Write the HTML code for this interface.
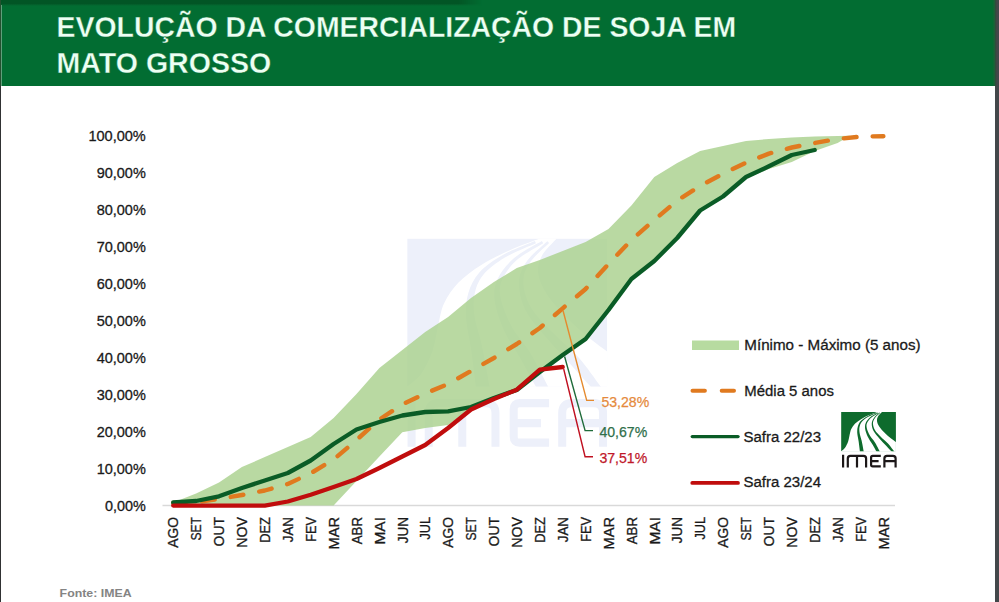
<!DOCTYPE html>
<html lang="pt-BR">
<head>
<meta charset="utf-8">
<title>Evolução da comercialização de soja em Mato Grosso</title>
<style>
  html, body { margin: 0; padding: 0; }
  body { width: 999px; height: 602px; overflow: hidden; background: #ffffff;
         font-family: "Liberation Sans", sans-serif; position: relative; }
  .frame { position: absolute; left: 0; top: 0; width: 999px; height: 602px; overflow: hidden; background: #fff; }
  .header { position: absolute; left: 0; top: 0; width: 997px; height: 85.6px;
             background: linear-gradient(to right, #026d32 0px, #026d32 992.5px, #1d6038 994.5px, #2f4c3c 995.5px, #43484a 997px); }
  .header-shadow { position: absolute; left: 0; top: 0; width: 482px; height: 6px;
                   background: linear-gradient(to bottom, #025525 0%, #025525 62%, #04622d 80%, #026d32 100%);
                   -webkit-mask-image: linear-gradient(to right, #000 0%, #000 95%, transparent 100%);
                   mask-image: linear-gradient(to right, #000 0%, #000 95%, transparent 100%); }
  .left-border { position: absolute; left: 0; top: 0; width: 1px; height: 602px;
                  background: linear-gradient(to bottom, #24502f 0px, #24502f 85px, #303233 86px, #303233 602px); }
  .left-hl { position: absolute; left: 1px; top: 5px; width: 1px; height: 81px; background: #5f9f7b; }
  .right-border { position: absolute; left: 995px; top: 0; width: 4px; height: 602px; background: #43474a; }
  svg { position: absolute; left: 0; top: 0; }
  svg text { font-family: "Liberation Sans", sans-serif; }
</style>
</head>
<body>
<div class="frame">
  <div class="right-border"></div>
  <div class="header"></div>
  <div class="header-shadow"></div>
  <svg width="999" height="602" viewBox="0 0 999 602">
    <defs><clipPath id="logoclip"><rect x="0" y="0" width="54.85" height="39.45"/></clipPath></defs>
    <!-- title -->
    <g font-weight="700" font-size="30" fill="#ecfff3" stroke="#026d32" stroke-width="0.35">
      <text x="56.6" y="36.8" textLength="679.6" lengthAdjust="spacingAndGlyphs">EVOLUÇÃO DA COMERCIALIZAÇÃO DE SOJA EM</text>
      <text x="56.6" y="72.9" textLength="214.6" lengthAdjust="spacingAndGlyphs">MATO GROSSO</text>
    </g>

    <!-- watermark -->
    <g transform="translate(407.2,238.6) scale(3.647,3.75)"><g clip-path="url(#logoclip)"><rect x="0" y="0" width="54.85" height="39.45" fill="#edf0fa"/><path d="M 36.33 0.00 C 34.96 0.52, 30.79 1.95, 28.12 3.12 C 25.46 4.30, 22.66 5.60, 20.31 7.03 C 17.97 8.46, 15.76 10.03, 14.06 11.72 C 12.37 13.41, 11.07 15.36, 10.16 17.19 C 9.24 19.01, 9.11 20.57, 8.59 22.66 C 8.07 24.74, 7.81 27.47, 7.03 29.69 C 6.25 31.90, 5.08 34.31, 3.91 35.94 C 2.73 37.57, 0.65 38.87, 0.00 39.45 L 0 40.45 L 55.85 40.45 L 55.85 30.68 L 54.85 30.08 C 54.04 29.49, 51.85 28.06, 50.00 26.56 C 48.15 25.07, 45.70 23.05, 43.75 21.09 C 41.80 19.14, 39.58 16.80, 38.28 14.84 C 36.98 12.89, 36.17 11.07, 35.94 9.38 C 35.70 7.68, 36.03 6.25, 36.88 4.69 C 37.72 3.12, 40.33 0.78, 41.02 0.00 Z" fill="#ffffff"/><path d="M 35.02 0.62 C 33.57 1.23, 28.87 2.91, 26.34 4.30 C 23.82 5.69, 21.45 7.24, 19.84 8.96 C 18.24 10.68, 17.34 12.59, 16.73 14.63 C 16.11 16.67, 16.04 18.78, 16.16 21.21 C 16.29 23.64, 17.00 25.99, 17.47 29.20 C 17.93 32.40, 18.69 38.57, 18.94 40.45 L 22.78 40.45 C 22.40 38.48, 21.21 31.86, 20.50 28.62 C 19.79 25.37, 18.87 23.24, 18.52 20.98 C 18.18 18.72, 18.05 16.92, 18.43 15.06 C 18.81 13.19, 19.39 11.45, 20.78 9.79 C 22.17 8.12, 24.36 6.49, 26.78 5.07 C 29.20 3.65, 33.88 1.89, 35.30 1.26 Z" fill="#edf0fa"/><path d="M 36.93 0.64 C 35.67 1.39, 31.42 3.46, 29.40 5.13 C 27.38 6.81, 25.72 8.78, 24.82 10.68 C 23.91 12.59, 23.67 14.21, 23.98 16.56 C 24.29 18.90, 25.49 22.17, 26.68 24.76 C 27.87 27.35, 29.59 29.47, 31.12 32.08 C 32.65 34.70, 35.06 39.06, 35.84 40.45 L 39.16 40.45 C 38.25 38.78, 35.45 33.21, 33.72 30.42 C 31.99 27.62, 30.13 26.04, 28.79 23.68 C 27.46 21.32, 26.18 18.34, 25.71 16.25 C 25.24 14.17, 25.25 12.93, 25.96 11.19 C 26.67 9.45, 28.09 7.46, 29.97 5.80 C 31.86 4.15, 36.07 2.00, 37.29 1.24 Z" fill="#edf0fa"/><path d="M 38.43 0.69 C 37.50 1.57, 34.14 4.17, 32.85 6.00 C 31.55 7.84, 30.71 9.53, 30.65 11.72 C 30.59 13.91, 31.21 16.68, 32.48 19.15 C 33.75 21.62, 36.15 24.09, 38.25 26.53 C 40.34 28.97, 42.91 31.50, 45.07 33.82 C 47.23 36.14, 50.18 39.34, 51.20 40.45 L 53.80 40.45 C 52.68 39.01, 49.44 34.38, 47.12 31.81 C 44.80 29.24, 42.08 27.28, 39.88 25.03 C 37.68 22.79, 35.27 20.57, 33.93 18.35 C 32.59 16.13, 31.91 13.69, 31.85 11.72 C 31.79 9.74, 32.38 8.25, 33.56 6.50 C 34.74 4.74, 38.02 2.07, 38.92 1.19 Z" fill="#edf0fa"/></g><path transform="translate(-0.8,0)" d="M 2.00 42.80 L 2.00 55.50 M 6.70 55.50 L 6.70 46.50 Q 6.70 43.90 9.30 43.90 L 22.40 43.90 Q 25.00 43.90 25.00 46.50 L 25.00 55.50 M 15.90 43.90 L 15.90 55.50 M 39.70 43.90 L 31.60 43.90 Q 30.00 43.90 30.00 45.50 L 30.00 52.80 Q 30.00 54.40 31.60 54.40 L 39.70 54.40 M 30.00 49.20 L 37.50 49.20 M 43.30 55.50 L 43.30 46.50 Q 43.30 43.90 45.90 43.90 L 51.90 43.90 Q 54.50 43.90 54.50 46.50 L 54.50 55.50 M 43.30 49.20 L 54.50 49.20 " fill="none" stroke="#edf0fa" stroke-width="2.2" stroke-linejoin="round"/></g>

    <!-- axis line -->
    <line x1="162.5" y1="505.5" x2="895" y2="505.5" stroke="#d9d9d9" stroke-width="1.3"/>

    <!-- band -->
    <polygon points="173.2,502.5 196.1,493.5 219.0,482.5 241.9,467.1 264.8,457.0 287.8,447.0 310.7,437.0 333.6,418.0 356.5,394.0 379.4,368.0 402.3,350.0 425.2,332.0 448.1,317.0 471.0,298.0 493.9,282.0 516.8,268.0 539.8,260.0 562.7,251.0 585.6,242.0 608.5,229.0 631.4,205.5 654.3,177.0 677.2,163.0 700.1,151.0 723.0,146.0 746.0,141.0 768.9,139.0 791.8,137.6 814.7,136.6 837.6,136.0 850.0,135.8 850.0,135.8 837.6,143.0 814.7,151.0 791.8,162.0 768.9,169.0 746.0,178.0 723.0,196.0 700.1,211.0 677.2,238.0 654.3,261.0 631.4,279.0 608.5,310.0 585.6,339.0 562.7,355.0 539.8,372.0 516.8,390.0 493.9,398.0 471.0,408.5 448.1,425.0 425.2,428.0 402.3,432.3 379.4,456.5 356.5,481.0 333.6,505.5 310.7,505.5 287.8,505.5 264.8,505.5 241.9,505.5 219.0,505.5 196.1,505.5 173.2,505.5" fill="#a9d18e" fill-opacity="0.82"/>

    <!-- series -->
    <polyline points="173.2,503.0 196.1,502.2 219.0,499.0 241.9,495.0 264.8,490.5 287.8,484.0 310.7,473.3 333.6,459.5 356.5,440.0 379.4,419.5 402.3,404.5 425.2,393.5 448.1,384.0 471.0,371.0 493.9,358.0 516.8,344.0 539.8,328.0 562.7,308.3 585.6,289.0 608.5,264.0 631.4,240.0 654.3,220.0 677.2,200.5 700.1,186.0 723.0,173.7 746.0,162.6 768.9,153.6 791.8,147.5 814.7,143.0 837.6,139.0 860.5,136.6 883.4,136.2" fill="none" stroke="#e07a1f" stroke-width="4.4" stroke-linecap="round" stroke-linejoin="round" stroke-dasharray="12.8 16.16"/>
    <polyline points="173.2,502.5 196.1,501.0 219.0,496.3 241.9,488.0 264.8,480.5 287.8,473.0 310.7,460.5 333.6,444.0 356.5,429.5 379.4,422.0 402.3,415.5 425.2,412.0 448.1,411.3 471.0,407.0 493.9,398.0 516.8,390.0 539.8,372.0 562.7,355.0 585.6,339.0 608.5,310.0 631.4,279.0 654.3,261.0 677.2,238.0 700.1,210.5 723.0,196.5 746.0,177.0 768.9,166.3 791.8,155.0 814.7,150.0" fill="none" stroke="#0a5c26" stroke-width="4.3" stroke-linecap="round" stroke-linejoin="round"/>
    <polyline points="173.2,505.6 196.1,505.6 219.0,505.6 241.9,505.6 264.8,505.6 287.8,501.5 310.7,494.8 333.6,487.0 356.5,479.0 379.4,468.0 402.3,456.5 425.2,445.0 448.1,428.0 471.0,409.5 493.9,399.0 516.8,389.7 539.8,369.7 562.7,367.0" fill="none" stroke="#c00d0d" stroke-width="4.3" stroke-linecap="round" stroke-linejoin="round"/>

    <!-- leader lines -->
    <polyline points="563,310.5 586.7,400.4 594,400.4" fill="none" stroke="#e58a2e" stroke-width="1.4"/>
    <polyline points="564.6,356.5 585.1,430.6 593,430.6" fill="none" stroke="#1f6b3a" stroke-width="1.4"/>
    <polyline points="563.7,369 585.1,456.7 593,456.7" fill="none" stroke="#c01020" stroke-width="1.4"/>

    <!-- data labels -->
    <g font-size="15">
      <text x="601.4" y="406.6" fill="#e58a3c" stroke="#e58a3c" stroke-width="0.25" textLength="47.8" lengthAdjust="spacingAndGlyphs">53,28%</text>
      <text x="599.4" y="436.8" fill="#2f6f4a" stroke="#2f6f4a" stroke-width="0.25" textLength="47.8" lengthAdjust="spacingAndGlyphs">40,67%</text>
      <text x="599.4" y="462.8" fill="#c0182a" stroke="#c0182a" stroke-width="0.25" textLength="47.8" lengthAdjust="spacingAndGlyphs">37,51%</text>
    </g>

    <!-- y axis labels -->
    <g font-size="14.6" fill="#1a1a1a" stroke="#1a1a1a" stroke-width="0.3">
<text x="145.8" y="511.1" text-anchor="end" textLength="40.8" lengthAdjust="spacingAndGlyphs">0,00%</text>
<text x="145.8" y="474.1" text-anchor="end" textLength="49.1" lengthAdjust="spacingAndGlyphs">10,00%</text>
<text x="145.8" y="437.0" text-anchor="end" textLength="49.1" lengthAdjust="spacingAndGlyphs">20,00%</text>
<text x="145.8" y="400.0" text-anchor="end" textLength="49.1" lengthAdjust="spacingAndGlyphs">30,00%</text>
<text x="145.8" y="362.9" text-anchor="end" textLength="49.1" lengthAdjust="spacingAndGlyphs">40,00%</text>
<text x="145.8" y="325.9" text-anchor="end" textLength="49.1" lengthAdjust="spacingAndGlyphs">50,00%</text>
<text x="145.8" y="288.8" text-anchor="end" textLength="49.1" lengthAdjust="spacingAndGlyphs">60,00%</text>
<text x="145.8" y="251.8" text-anchor="end" textLength="49.1" lengthAdjust="spacingAndGlyphs">70,00%</text>
<text x="145.8" y="214.7" text-anchor="end" textLength="49.1" lengthAdjust="spacingAndGlyphs">80,00%</text>
<text x="145.8" y="177.7" text-anchor="end" textLength="49.1" lengthAdjust="spacingAndGlyphs">90,00%</text>
<text x="145.8" y="140.6" text-anchor="end" textLength="57.4" lengthAdjust="spacingAndGlyphs">100,00%</text>
    </g>

    <!-- x axis labels -->
    <g font-size="14.6" fill="#1a1a1a" stroke="#1a1a1a" stroke-width="0.3">
<text transform="translate(178.4,517) rotate(-90)" text-anchor="end" textLength="30.7" lengthAdjust="spacingAndGlyphs">AGO</text>
<text transform="translate(201.3,517) rotate(-90)" text-anchor="end" textLength="23.5" lengthAdjust="spacingAndGlyphs">SET</text>
<text transform="translate(224.2,517) rotate(-90)" text-anchor="end" textLength="29.4" lengthAdjust="spacingAndGlyphs">OUT</text>
<text transform="translate(247.1,517) rotate(-90)" text-anchor="end" textLength="30.7" lengthAdjust="spacingAndGlyphs">NOV</text>
<text transform="translate(270.0,517) rotate(-90)" text-anchor="end" textLength="25.8" lengthAdjust="spacingAndGlyphs">DEZ</text>
<text transform="translate(292.9,517) rotate(-90)" text-anchor="end" textLength="25.3" lengthAdjust="spacingAndGlyphs">JAN</text>
<text transform="translate(315.9,517) rotate(-90)" text-anchor="end" textLength="24.8" lengthAdjust="spacingAndGlyphs">FEV</text>
<text transform="translate(338.8,517) rotate(-90)" text-anchor="end" textLength="32.4" lengthAdjust="spacingAndGlyphs">MAR</text>
<text transform="translate(361.7,517) rotate(-90)" text-anchor="end" textLength="27.3" lengthAdjust="spacingAndGlyphs">ABR</text>
<text transform="translate(384.6,517) rotate(-90)" text-anchor="end" textLength="27.6" lengthAdjust="spacingAndGlyphs">MAI</text>
<text transform="translate(407.5,517) rotate(-90)" text-anchor="end" textLength="26.3" lengthAdjust="spacingAndGlyphs">JUN</text>
<text transform="translate(430.4,517) rotate(-90)" text-anchor="end" textLength="22.6" lengthAdjust="spacingAndGlyphs">JUL</text>
<text transform="translate(453.3,517) rotate(-90)" text-anchor="end" textLength="30.7" lengthAdjust="spacingAndGlyphs">AGO</text>
<text transform="translate(476.2,517) rotate(-90)" text-anchor="end" textLength="23.5" lengthAdjust="spacingAndGlyphs">SET</text>
<text transform="translate(499.1,517) rotate(-90)" text-anchor="end" textLength="29.4" lengthAdjust="spacingAndGlyphs">OUT</text>
<text transform="translate(522.0,517) rotate(-90)" text-anchor="end" textLength="30.7" lengthAdjust="spacingAndGlyphs">NOV</text>
<text transform="translate(545.0,517) rotate(-90)" text-anchor="end" textLength="25.8" lengthAdjust="spacingAndGlyphs">DEZ</text>
<text transform="translate(567.9,517) rotate(-90)" text-anchor="end" textLength="25.3" lengthAdjust="spacingAndGlyphs">JAN</text>
<text transform="translate(590.8,517) rotate(-90)" text-anchor="end" textLength="24.8" lengthAdjust="spacingAndGlyphs">FEV</text>
<text transform="translate(613.7,517) rotate(-90)" text-anchor="end" textLength="32.4" lengthAdjust="spacingAndGlyphs">MAR</text>
<text transform="translate(636.6,517) rotate(-90)" text-anchor="end" textLength="27.3" lengthAdjust="spacingAndGlyphs">ABR</text>
<text transform="translate(659.5,517) rotate(-90)" text-anchor="end" textLength="27.6" lengthAdjust="spacingAndGlyphs">MAI</text>
<text transform="translate(682.4,517) rotate(-90)" text-anchor="end" textLength="26.3" lengthAdjust="spacingAndGlyphs">JUN</text>
<text transform="translate(705.3,517) rotate(-90)" text-anchor="end" textLength="22.6" lengthAdjust="spacingAndGlyphs">JUL</text>
<text transform="translate(728.2,517) rotate(-90)" text-anchor="end" textLength="30.7" lengthAdjust="spacingAndGlyphs">AGO</text>
<text transform="translate(751.2,517) rotate(-90)" text-anchor="end" textLength="23.5" lengthAdjust="spacingAndGlyphs">SET</text>
<text transform="translate(774.1,517) rotate(-90)" text-anchor="end" textLength="29.4" lengthAdjust="spacingAndGlyphs">OUT</text>
<text transform="translate(797.0,517) rotate(-90)" text-anchor="end" textLength="30.7" lengthAdjust="spacingAndGlyphs">NOV</text>
<text transform="translate(819.9,517) rotate(-90)" text-anchor="end" textLength="25.8" lengthAdjust="spacingAndGlyphs">DEZ</text>
<text transform="translate(842.8,517) rotate(-90)" text-anchor="end" textLength="25.3" lengthAdjust="spacingAndGlyphs">JAN</text>
<text transform="translate(865.7,517) rotate(-90)" text-anchor="end" textLength="24.8" lengthAdjust="spacingAndGlyphs">FEV</text>
<text transform="translate(888.6,517) rotate(-90)" text-anchor="end" textLength="32.4" lengthAdjust="spacingAndGlyphs">MAR</text>
    </g>

    <!-- legend -->
    <rect x="692" y="340.5" width="47" height="9.5" fill="#b7dba0"/>
    <line x1="692.5" y1="390.8" x2="734" y2="390.8" stroke="#e07a1f" stroke-width="4" stroke-linecap="round" stroke-dasharray="12.4 16.8"/>
    <line x1="692.3" y1="436.6" x2="738" y2="436.6" stroke="#0a5c26" stroke-width="3.4" stroke-linecap="round"/>
    <line x1="692.3" y1="482.9" x2="738" y2="482.9" stroke="#c00d0d" stroke-width="3.8" stroke-linecap="round"/>
    <g font-size="15.4" fill="#1a1a1a" stroke="#1a1a1a" stroke-width="0.3">
      <text x="744.3" y="349.9" textLength="176.3" lengthAdjust="spacingAndGlyphs">Mínimo - Máximo (5 anos)</text>
      <text x="744.3" y="395.6" textLength="89.6" lengthAdjust="spacingAndGlyphs">Média 5 anos</text>
      <text x="743.5" y="441.6" textLength="77.5" lengthAdjust="spacingAndGlyphs">Safra 22/23</text>
      <text x="743.5" y="487.4" textLength="77.5" lengthAdjust="spacingAndGlyphs">Safra 23/24</text>
    </g>

    <!-- IMEA logo -->
    <g transform="translate(841.1,411.9)"><g clip-path="url(#logoclip)"><rect x="0" y="0" width="54.85" height="39.45" fill="#0e6b2d"/><path d="M 36.33 0.00 C 34.96 0.52, 30.79 1.95, 28.12 3.12 C 25.46 4.30, 22.66 5.60, 20.31 7.03 C 17.97 8.46, 15.76 10.03, 14.06 11.72 C 12.37 13.41, 11.07 15.36, 10.16 17.19 C 9.24 19.01, 9.11 20.57, 8.59 22.66 C 8.07 24.74, 7.81 27.47, 7.03 29.69 C 6.25 31.90, 5.08 34.31, 3.91 35.94 C 2.73 37.57, 0.65 38.87, 0.00 39.45 L 0 40.45 L 55.85 40.45 L 55.85 30.68 L 54.85 30.08 C 54.04 29.49, 51.85 28.06, 50.00 26.56 C 48.15 25.07, 45.70 23.05, 43.75 21.09 C 41.80 19.14, 39.58 16.80, 38.28 14.84 C 36.98 12.89, 36.17 11.07, 35.94 9.38 C 35.70 7.68, 36.03 6.25, 36.88 4.69 C 37.72 3.12, 40.33 0.78, 41.02 0.00 Z" fill="#ffffff"/><path d="M 35.02 0.62 C 33.57 1.23, 28.87 2.91, 26.34 4.30 C 23.82 5.69, 21.45 7.24, 19.84 8.96 C 18.24 10.68, 17.34 12.59, 16.73 14.63 C 16.11 16.67, 16.04 18.78, 16.16 21.21 C 16.29 23.64, 17.00 25.99, 17.47 29.20 C 17.93 32.40, 18.69 38.57, 18.94 40.45 L 22.78 40.45 C 22.40 38.48, 21.21 31.86, 20.50 28.62 C 19.79 25.37, 18.87 23.24, 18.52 20.98 C 18.18 18.72, 18.05 16.92, 18.43 15.06 C 18.81 13.19, 19.39 11.45, 20.78 9.79 C 22.17 8.12, 24.36 6.49, 26.78 5.07 C 29.20 3.65, 33.88 1.89, 35.30 1.26 Z" fill="#0e6b2d"/><path d="M 36.93 0.64 C 35.67 1.39, 31.42 3.46, 29.40 5.13 C 27.38 6.81, 25.72 8.78, 24.82 10.68 C 23.91 12.59, 23.67 14.21, 23.98 16.56 C 24.29 18.90, 25.49 22.17, 26.68 24.76 C 27.87 27.35, 29.59 29.47, 31.12 32.08 C 32.65 34.70, 35.06 39.06, 35.84 40.45 L 39.16 40.45 C 38.25 38.78, 35.45 33.21, 33.72 30.42 C 31.99 27.62, 30.13 26.04, 28.79 23.68 C 27.46 21.32, 26.18 18.34, 25.71 16.25 C 25.24 14.17, 25.25 12.93, 25.96 11.19 C 26.67 9.45, 28.09 7.46, 29.97 5.80 C 31.86 4.15, 36.07 2.00, 37.29 1.24 Z" fill="#0e6b2d"/><path d="M 38.43 0.69 C 37.50 1.57, 34.14 4.17, 32.85 6.00 C 31.55 7.84, 30.71 9.53, 30.65 11.72 C 30.59 13.91, 31.21 16.68, 32.48 19.15 C 33.75 21.62, 36.15 24.09, 38.25 26.53 C 40.34 28.97, 42.91 31.50, 45.07 33.82 C 47.23 36.14, 50.18 39.34, 51.20 40.45 L 53.80 40.45 C 52.68 39.01, 49.44 34.38, 47.12 31.81 C 44.80 29.24, 42.08 27.28, 39.88 25.03 C 37.68 22.79, 35.27 20.57, 33.93 18.35 C 32.59 16.13, 31.91 13.69, 31.85 11.72 C 31.79 9.74, 32.38 8.25, 33.56 6.50 C 34.74 4.74, 38.02 2.07, 38.92 1.19 Z" fill="#0e6b2d"/></g><path transform="translate(0,0)" d="M 2.00 42.80 L 2.00 55.50 M 6.70 55.50 L 6.70 46.50 Q 6.70 43.90 9.30 43.90 L 22.40 43.90 Q 25.00 43.90 25.00 46.50 L 25.00 55.50 M 15.90 43.90 L 15.90 55.50 M 39.70 43.90 L 31.60 43.90 Q 30.00 43.90 30.00 45.50 L 30.00 52.80 Q 30.00 54.40 31.60 54.40 L 39.70 54.40 M 30.00 49.20 L 37.50 49.20 M 43.30 55.50 L 43.30 46.50 Q 43.30 43.90 45.90 43.90 L 51.90 43.90 Q 54.50 43.90 54.50 46.50 L 54.50 55.50 M 43.30 49.20 L 54.50 49.20 " fill="none" stroke="#1c1718" stroke-width="2.2" stroke-linejoin="round"/></g>

    <!-- footer -->
    <text x="59.6" y="596.8" font-size="11.7" font-weight="700" fill="#848484" textLength="72" lengthAdjust="spacingAndGlyphs">Fonte: IMEA</text>
  </svg>
  <div class="left-border"></div>
  <div class="left-hl"></div>
</div>
</body>
</html>
